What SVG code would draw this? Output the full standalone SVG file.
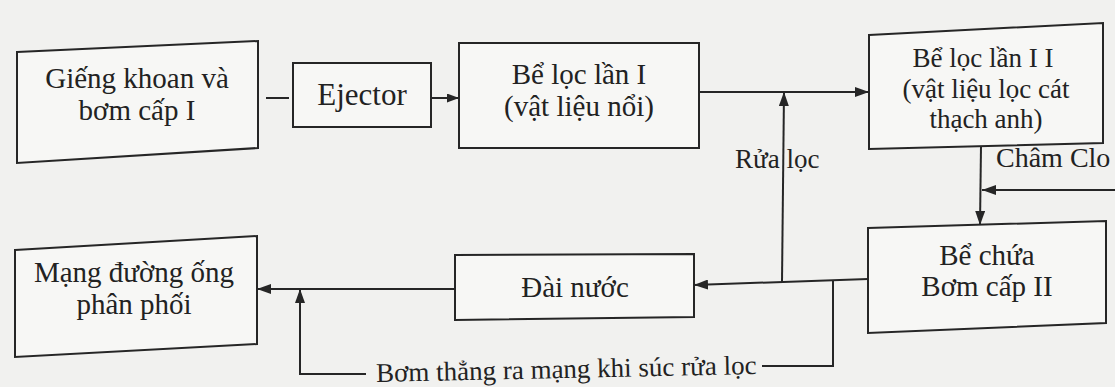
<svg xmlns="http://www.w3.org/2000/svg" width="1115" height="387" viewBox="0 0 1115 387">
  <defs>
    <marker id="ah" markerUnits="userSpaceOnUse" markerWidth="14" markerHeight="10" refX="14" refY="5" orient="auto">
      <path d="M0,0 L14,5 L0,10 z" fill="#262626"/>
    </marker>
    <marker id="ahs" markerUnits="userSpaceOnUse" markerWidth="12" markerHeight="9" refX="12" refY="4.5" orient="auto">
      <path d="M0,0 L12,4.5 L0,9 z" fill="#262626"/>
    </marker>
  </defs>
  <style>
    .box { fill: #f7f7f5; stroke: #262626; stroke-width: 2; stroke-linejoin: miter; }
    .t { font-family: "Liberation Serif", "Times New Roman", serif; font-size: 29px; fill: #222; text-anchor: middle; }
    .t3 { font-family: "Liberation Serif", "Times New Roman", serif; font-size: 27px; fill: #222; text-anchor: middle; }
    .ts { font-family: "Liberation Serif", "Times New Roman", serif; font-size: 27px; fill: #222; }
    .c { fill: none; stroke: #262626; stroke-width: 2; }
  </style>
  <rect x="0" y="0" width="1115" height="387" fill="#f1f1ef"/>

  <g id="gieng-khoan">
    <polygon class="box" points="17,52 258,41 258,148 17,163"/>
    <text class="t" x="137" y="88">Giếng khoan và</text>
    <text class="t" x="137" y="120">bơm cấp I</text>
  </g>

  <g id="ejector">
    <rect class="box" x="293" y="63" width="138" height="64"/>
    <text class="t" x="362" y="105" style="font-size:31px">Ejector</text>
  </g>

  <g id="be-loc-1">
    <rect class="box" x="459" y="43" width="240" height="105"/>
    <text class="t" x="579" y="84">Bể lọc lần I</text>
    <text class="t" x="579" y="116">(vật liệu nổi)</text>
  </g>

  <g id="be-loc-2">
    <polygon class="box" points="869,35 1103,23 1103,143 869,149"/>
    <text class="t3" x="983" y="67">Bể lọc lần I I</text>
    <text class="t3" x="986" y="98">(vật liệu lọc cát</text>
    <text class="t3" x="986" y="128">thạch anh)</text>
  </g>

  <g id="be-chua">
    <polygon class="box" points="868,228 1106,221 1106,323 868,333"/>
    <text class="t" x="987" y="265">Bể chứa</text>
    <text class="t" x="987" y="296">Bơm cấp II</text>
  </g>

  <g id="dai-nuoc">
    <polygon class="box" points="455,255 694,254 694,317 455,320"/>
    <text class="t" x="575" y="297">Đài nước</text>
  </g>

  <g id="mang-duong-ong">
    <polygon class="box" points="15,250 257,236 257,344 15,357"/>
    <text class="t" x="134" y="282">Mạng đường ống</text>
    <text class="t" x="134" y="314">phân phối</text>
  </g>

  <g id="connectors">
    <line class="c" x1="266" y1="98" x2="289" y2="98"/>
    <line class="c" x1="431" y1="98" x2="459" y2="98" marker-end="url(#ahs)"/>
    <line class="c" x1="699" y1="92" x2="869" y2="92" marker-end="url(#ah)"/>
    <line class="c" x1="782" y1="282" x2="784" y2="92" marker-end="url(#ah)"/>
    <line class="c" x1="981" y1="146" x2="980" y2="225" marker-end="url(#ah)"/>
    <line class="c" x1="1115" y1="190" x2="982" y2="190" marker-end="url(#ah)"/>
    <line class="c" x1="868" y1="279" x2="694" y2="285" marker-end="url(#ah)"/>
    <line class="c" x1="455" y1="289" x2="257" y2="289" marker-end="url(#ah)"/>
    <polyline class="c" points="762,366 833,366 833,280.5"/>
    <polyline class="c" points="366,374 300,374 300,289" marker-end="url(#ah)"/>
  </g>

  <g id="labels">
    <text class="ts" x="735" y="168">Rửa lọc</text>
    <text class="ts" x="996" y="167" style="font-size:28px">Châm Clo</text>
    <text class="ts" x="376" y="378" transform="rotate(-1.2 566 372)">Bơm thẳng ra mạng khi súc rửa lọc</text>
  </g>
</svg>
